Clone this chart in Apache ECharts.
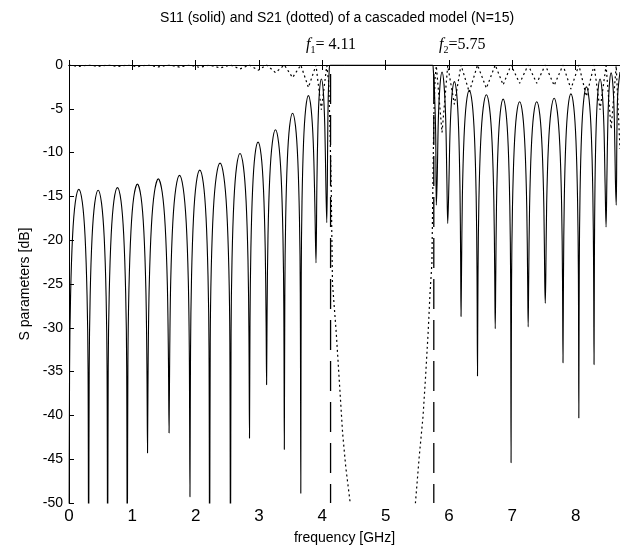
<!DOCTYPE html>
<html><head><meta charset="utf-8">
<script src="https://cdn.jsdelivr.net/npm/echarts@6/dist/echarts.min.js"></script>
<style>html,body{margin:0;padding:0;background:#fff}#c{width:620px;height:551px}</style>
</head><body><div id="c"></div>
<script>
// ---- data: [frequency GHz, dB] ----
const titleText = 'S11 (solid) and S21 (dotted) of a cascaded model (N=15)';
const xTicks = [0, 1, 2, 3, 4, 5, 6, 7, 8];
const yTicks = [0, -5, -10, -15, -20, -25, -30, -35, -40, -45, -50];
const markerFreqs = [4.13, 5.76];
const markerTexts = ['4.11', '5.75'];

const s11Pass1 = [
[0.000,-60],[0.009,-34.7],[0.025,-26.3],[0.056,-19.6],[0.099,-15.7],[0.155,-14.2],[0.211,-15.7],[0.254,-19.6],[0.285,-26.3],[0.301,-34.7],
[0.310,-60],[0.319,-34.8],[0.334,-26.4],[0.364,-19.7],[0.406,-15.8],[0.460,-14.3],[0.514,-15.8],[0.556,-19.7],[0.586,-26.4],[0.601,-34.8],
[0.610,-60],[0.619,-34.5],[0.635,-26.1],[0.666,-19.4],[0.709,-15.5],[0.765,-14.0],[0.821,-15.5],[0.864,-19.4],[0.895,-26.1],[0.911,-34.5],
[0.920,-60],[0.930,-34.1],[0.946,-25.7],[0.978,-19.0],[1.022,-15.1],[1.080,-13.6],[1.138,-15.1],[1.182,-19.0],[1.214,-25.7],[1.230,-34.1],
[1.240,-44.3],[1.250,-33.5],[1.267,-25.1],[1.301,-18.4],[1.349,-14.5],[1.410,-13.0],[1.471,-14.5],[1.519,-18.4],[1.553,-25.1],[1.570,-33.5],
[1.580,-42.0],[1.590,-33.1],[1.606,-24.7],[1.639,-18.0],[1.686,-14.1],[1.745,-12.6],[1.804,-14.1],[1.851,-18.0],[1.884,-24.7],[1.900,-33.1],
[1.910,-49.3],[1.919,-32.5],[1.935,-24.1],[1.966,-17.4],[2.009,-13.5],[2.065,-12.0],[2.121,-13.5],[2.164,-17.4],[2.195,-24.1],[2.211,-32.5],
[2.220,-60],[2.230,-31.7],[2.246,-23.3],[2.279,-16.6],[2.326,-12.7],[2.385,-11.2],[2.444,-12.7],[2.491,-16.6],[2.524,-23.3],[2.540,-31.7],
[2.550,-60],[2.559,-30.6],[2.574,-22.2],[2.604,-15.5],[2.646,-11.6],[2.700,-10.1],[2.754,-11.6],[2.796,-15.5],[2.826,-22.2],[2.841,-30.6],
[2.850,-42.6],[2.858,-29.3],[2.872,-20.9],[2.899,-14.2],[2.936,-10.3],[2.985,-8.8],[3.034,-10.3],[3.071,-14.2],[3.098,-20.9],[3.112,-29.3],
[3.120,-36.5],[3.128,-27.9],[3.142,-19.5],[3.170,-12.8],[3.210,-8.9],[3.260,-7.4],[3.310,-8.9],[3.350,-12.8],[3.378,-19.5],[3.392,-27.9],
[3.400,-43.9],[3.408,-26.0],[3.421,-17.6],[3.447,-10.9],[3.483,-7.0],[3.530,-5.5],[3.577,-7.0],[3.613,-10.9],[3.639,-17.6],[3.652,-26.0],
[3.660,-48.9],[3.667,-24.0],[3.679,-15.6],[3.703,-8.9],[3.737,-5.0],[3.780,-3.5],[3.823,-5.0],[3.857,-8.9],[3.881,-15.6],
[3.900,-22.6],[3.914,-13.7],[3.931,-7.0],[3.954,-3.1],[3.985,-1.6],[4.016,-3.1],[4.039,-7.0],[4.056,-13.7],
[4.070,-18.0],[4.090,-5.0],[4.110,-0.4]
];
const s11Stop = [[4.130,0],[5.740,0]];
const s11Pass2 = [
[5.750,-0.3],[5.770,-3.0],[5.790,-8.0],[5.800,-16.0],[5.814,-12.9],[5.832,-6.2],[5.858,-2.3],[5.890,-0.8],[5.922,-2.3],[5.948,-6.2],[5.966,-12.9],
[5.980,-18.1],[5.997,-14.0],[6.018,-7.3],[6.047,-3.4],[6.085,-1.9],[6.123,-3.4],[6.152,-7.3],[6.173,-14.0],[6.184,-22.4],
[6.190,-28.7],[6.198,-23.4],[6.211,-15.0],[6.237,-8.3],[6.273,-4.4],[6.320,-2.9],[6.367,-4.4],[6.403,-8.3],[6.429,-15.0],[6.442,-23.4],
[6.450,-35.5],[6.458,-23.9],[6.472,-15.5],[6.500,-8.8],[6.540,-4.9],[6.590,-3.4],[6.640,-4.9],[6.680,-8.8],[6.708,-15.5],[6.722,-23.9],
[6.730,-30.1],[6.738,-24.4],[6.750,-16.0],[6.775,-9.3],[6.810,-5.4],[6.855,-3.9],[6.900,-5.4],[6.935,-9.3],[6.960,-16.0],[6.973,-24.4],
[6.980,-45.4],[6.988,-24.7],[7.002,-16.3],[7.029,-9.6],[7.066,-5.7],[7.115,-4.2],[7.164,-5.7],[7.201,-9.6],[7.228,-16.3],[7.242,-24.7],
[7.250,-29.9],[7.258,-24.7],[7.272,-16.3],[7.299,-9.6],[7.336,-5.7],[7.385,-4.2],[7.434,-5.7],[7.471,-9.6],[7.498,-16.3],[7.512,-24.7],
[7.520,-27.2],[7.528,-24.3],[7.542,-15.9],[7.570,-9.2],[7.610,-5.3],[7.660,-3.8],[7.710,-5.3],[7.750,-9.2],[7.778,-15.9],[7.792,-24.3],
[7.800,-34.0],[7.808,-23.8],[7.820,-15.4],[7.845,-8.7],[7.880,-4.8],[7.925,-3.3],[7.970,-4.8],[8.005,-8.7],[8.030,-15.4],[8.043,-23.8],
[8.050,-40.3],[8.057,-23.0],[8.069,-14.6],[8.093,-7.9],[8.127,-4.0],[8.170,-2.5],[8.213,-4.0],[8.247,-7.9],[8.271,-14.6],[8.283,-23.0],
[8.290,-34.2],[8.296,-22.1],[8.305,-13.7],[8.324,-7.0],[8.351,-3.1],[8.385,-1.6],[8.419,-3.1],[8.446,-7.0],[8.465,-13.7],
[8.480,-18.5],[8.493,-13.0],[8.509,-6.3],[8.531,-2.4],[8.560,-0.9],[8.589,-2.4],[8.611,-6.3],[8.627,-13.0],
[8.640,-16.0],[8.660,-4.0],[8.700,-0.8]
];
const s21 = [
[0.000,0],[0.155,-0.17],[0.310,0],[0.460,-0.16],[0.610,0],[0.765,-0.17],[0.920,0],[1.080,-0.19],[1.240,0],[1.410,-0.22],
[1.580,0],[1.745,-0.24],[1.910,0],[2.065,-0.28],[2.220,0],[2.385,-0.34],[2.550,0],[2.700,-0.45],[2.850,0],[2.985,-0.61],
[3.120,0],[3.260,-0.87],[3.400,0],[3.530,-1.44],[3.660,0],[3.780,-2.57],[3.900,-0.02],[3.985,-5.1],[4.070,-0.07],
[4.100,-2.0],[4.120,-7.0],[4.140,-14.0],[4.160,-24.9],[4.220,-30.6],[4.270,-36.3],[4.320,-42.0],[4.370,-45.9],[4.440,-50.0],
[4.500,-53.5],[4.930,-62.0],[5.400,-54.0],[5.470,-50.0],[5.530,-44.7],[5.590,-40.1],[5.630,-35.6],[5.670,-30.6],[5.700,-26.1],
[5.730,-22.6],[5.745,-14.0],[5.760,-6.0],[5.780,-1.5],[5.800,-0.1],[5.890,-7.7],[5.980,-0.07],[6.085,-4.5],[6.190,0],
[6.320,-3.1],[6.450,0],[6.590,-2.65],[6.730,0],[6.855,-2.27],[6.980,0],[7.115,-2.08],[7.250,0],[7.385,-2.08],[7.520,0],
[7.660,-2.34],[7.800,0],[7.925,-2.74],[8.050,0],[8.170,-3.59],[8.290,0],[8.385,-5.1],[8.480,-0.07],[8.560,-7.3],[8.640,-0.1],[8.700,-9.6]
];

// ---- chart ----
const chart = echarts.init(document.getElementById('c'), null, {renderer: 'canvas'});
const FONT = '"Liberation Sans", Arial, Helvetica, sans-serif';
const SERIF = '"Liberation Serif", "Times New Roman", serif';
const xMin = xTicks[0], xMax = 8.7, yMin = yTicks[yTicks.length - 1], yMax = yTicks[0];

const axisLine = {show: true, lineStyle: {color: '#000', width: 1}};
const tickIn = {show: true, inside: true, length: 5, lineStyle: {color: '#000', width: 1}};

const markerSeries = markerFreqs.map((f) => ({
  type: 'line', data: [[f, yMin], [f, yMax]], showSymbol: false, silent: true,
  lineStyle: {color: '#000', width: 1.3, type: [30, 11], dashOffset: 11}, z: 4
}));

const richF = {
  f: {fontFamily: SERIF, fontStyle: 'italic', fontSize: 16, lineHeight: 20, verticalAlign: 'middle'},
  s: {fontFamily: SERIF, fontSize: 10, lineHeight: 20, verticalAlign: 'bottom'},
  t: {fontFamily: SERIF, fontSize: 16, lineHeight: 20, verticalAlign: 'middle'}
};

chart.setOption({
  animation: false,
  backgroundColor: '#fff',
  grid: {left: 69, right: 0, top: 65, bottom: 48},
  xAxis: [
    {type: 'value', min: xMin, max: xMax, interval: 1, position: 'bottom',
     axisLine, axisTick: tickIn, splitLine: {show: false},
     axisLabel: {show: true, color: '#000', fontSize: 17, fontFamily: FONT, margin: 5, showMaxLabel: false,
       formatter: (v) => (xTicks.indexOf(v) >= 0 ? String(v) : '')},
     name: 'frequency [GHz]', nameLocation: 'middle', nameGap: 28,
     nameTextStyle: {color: '#000', fontSize: 14, fontFamily: FONT}},
    {type: 'value', min: xMin, max: xMax, interval: 1, position: 'top',
     axisLine, axisTick: tickIn, splitLine: {show: false}, axisLabel: {show: false}}
  ],
  yAxis: [
    {type: 'value', min: yMin, max: yMax, interval: 5, position: 'left',
     axisLine, axisTick: tickIn, splitLine: {show: false},
     axisLabel: {color: '#000', fontSize: 14, fontFamily: FONT, margin: 6},
     name: 'S parameters [dB]', nameLocation: 'middle', nameGap: 36, nameRotate: 90,
     nameTextStyle: {color: '#000', fontSize: 14, fontFamily: FONT}}
  ],
  graphic: [
    {type: 'text', x: 337, y: 18, style: {text: titleText, fill: '#000', font: '14px ' + FONT, align: 'center', verticalAlign: 'middle'}},
    {type: 'text', x: 306, y: 35, style: {text: '{f|f}{s|1}{t|= ' + markerTexts[0] + '}', rich: richF, fill: '#000'}},
    {type: 'text', x: 439, y: 35, style: {text: '{f|f}{s|2}{t|=' + markerTexts[1] + '}', rich: richF, fill: '#000'}}
  ],
  series: [
    {name: 'S11', type: 'line', data: s11Pass1.concat(s11Stop, s11Pass2), showSymbol: false, clip: true,
     smooth: 0.35, lineStyle: {color: '#000', width: 1.1}, z: 3},
    {name: 'S21', type: 'line', data: s21, showSymbol: false, clip: true,
     lineStyle: {color: '#000', width: 1.2, type: [2, 3]}, z: 2}
  ].concat(markerSeries)
});
</script></body></html>
